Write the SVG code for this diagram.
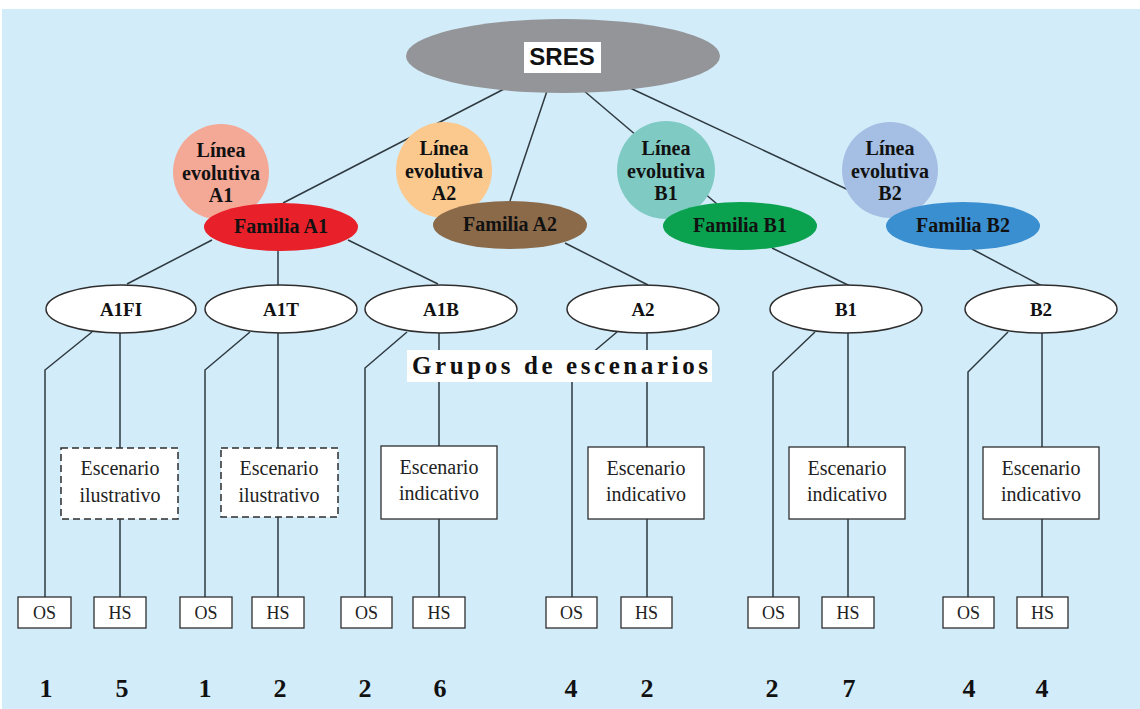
<svg xmlns="http://www.w3.org/2000/svg" width="1140" height="709" viewBox="0 0 1140 709">
<style>
.ln{stroke:#2e3a40;stroke-width:1.5;fill:none}
.grp{fill:#fff;stroke:#2e2e2e;stroke-width:1.5}
.box{fill:#fff;stroke:#2e2e2e;stroke-width:1.3}
.dash{fill:#fff;stroke:#2e2e2e;stroke-width:1.5;stroke-dasharray:7,4}
.tb{font-family:"Liberation Serif","Times New Roman",serif;font-weight:bold;fill:#111;text-anchor:middle}
.tr{font-family:"Liberation Serif","Times New Roman",serif;fill:#222;text-anchor:middle}
.lin{font-size:20px}
.fam{font-size:20px}
.gl{font-size:19px}
.esc{font-size:20px}
.os{font-size:18px}
.num{font-size:26px}
.grupos{font-family:"Liberation Serif","Times New Roman",serif;font-weight:bold;fill:#111;font-size:25px;text-anchor:start}
</style>
<rect x="0" y="0" width="1140" height="709" fill="#ffffff"/>
<rect x="2" y="9" width="1138" height="700" fill="#d3ecf9"/>

<g id="connectors">
<path class="ln" d="M506,88 L283,203"/>
<path class="ln" d="M548,88 L510,201"/>
<path class="ln" d="M583,90 L717,204"/>
<path class="ln" d="M630,88 L870,200"/>
<path class="ln" d="M212,240 L127,284"/>
<path class="ln" d="M278,250 V286"/>
<path class="ln" d="M348,240 L438,284"/>
<path class="ln" d="M565,243 L648,285"/>
<path class="ln" d="M772,248 L850,286"/>
<path class="ln" d="M972,249 L1042,286"/>
<path class="ln" d="M92,332 L45,370 V597"/>
<path class="ln" d="M120,333 V448 M120,519 V597"/>
<path class="ln" d="M250,332 L205,370 V597"/>
<path class="ln" d="M278,333 V448 M278,517 V597"/>
<path class="ln" d="M407,332 L365,368 V597"/>
<path class="ln" d="M439,333 V446 M439,519 V597"/>
<path class="ln" d="M617,332 L572,370 V597"/>
<path class="ln" d="M647,333 V447 M647,519 V597"/>
<path class="ln" d="M815,332 L773,372 V597"/>
<path class="ln" d="M848,333 V447 M848,519 V597"/>
<path class="ln" d="M1008,332 L968,372 V597"/>
<path class="ln" d="M1042,333 V447 M1042,519 V597"/>
</g>

<g id="sres">
<ellipse cx="563" cy="56" rx="157" ry="37" fill="#939598"/>
<rect x="524" y="42" width="77" height="31" fill="#fff"/>
<text x="562" y="65" font-family="Liberation Sans, Arial, sans-serif" font-weight="bold" font-size="24" text-anchor="middle" fill="#111">SRES</text>
</g>

<g id="linea-a1">
<circle cx="221" cy="172" r="48" fill="#f4a896"/>
<text class="tb lin" x="221" y="157">Línea</text>
<text class="tb lin" x="221" y="180">evolutiva</text>
<text class="tb lin" x="221" y="202">A1</text>
</g>
<g id="linea-a2">
<circle cx="444" cy="170" r="48" fill="#fbc98e"/>
<text class="tb lin" x="444" y="155">Línea</text>
<text class="tb lin" x="444" y="178">evolutiva</text>
<text class="tb lin" x="444" y="200">A2</text>
</g>
<g id="linea-b1">
<circle cx="666" cy="170" r="49" fill="#7fcbc4"/>
<text class="tb lin" x="666" y="155">Línea</text>
<text class="tb lin" x="666" y="178">evolutiva</text>
<text class="tb lin" x="666" y="200">B1</text>
</g>
<g id="linea-b2">
<circle cx="890" cy="170" r="48" fill="#a4bfe3"/>
<text class="tb lin" x="890" y="155">Línea</text>
<text class="tb lin" x="890" y="178">evolutiva</text>
<text class="tb lin" x="890" y="200">B2</text>
</g>

<g id="familia-a1">
<ellipse cx="281" cy="227" rx="77" ry="24" fill="#e8202a"/>
<text class="tb fam" x="281" y="233">Familia A1</text>
</g>
<g id="familia-a2">
<ellipse cx="510" cy="225" rx="77" ry="24" fill="#8b6a4a"/>
<text class="tb fam" x="510" y="231">Familia A2</text>
</g>
<g id="familia-b1">
<ellipse cx="740" cy="226" rx="77" ry="24" fill="#0aa24f"/>
<text class="tb fam" x="740" y="232">Familia B1</text>
</g>
<g id="familia-b2">
<ellipse cx="963" cy="226" rx="77" ry="24" fill="#3a8fd0"/>
<text class="tb fam" x="963" y="232">Familia B2</text>
</g>

<g id="g-a1fi"><ellipse class="grp" cx="121" cy="309" rx="75" ry="24"/><text class="tb gl" x="121" y="316">A1FI</text></g>
<g id="g-a1t"><ellipse class="grp" cx="281" cy="309" rx="76" ry="24"/><text class="tb gl" x="281" y="316">A1T</text></g>
<g id="g-a1b"><ellipse class="grp" cx="441" cy="309" rx="76" ry="24"/><text class="tb gl" x="441" y="316">A1B</text></g>
<g id="g-a2"><ellipse class="grp" cx="643" cy="309" rx="76" ry="24"/><text class="tb gl" x="643" y="316">A2</text></g>
<g id="g-b1"><ellipse class="grp" cx="846" cy="309" rx="76" ry="24"/><text class="tb gl" x="846" y="316">B1</text></g>
<g id="g-b2"><ellipse class="grp" cx="1041" cy="309" rx="76" ry="24"/><text class="tb gl" x="1041" y="316">B2</text></g>

<g id="grupos-label">
<rect x="407" y="350" width="305" height="32" fill="#fff"/>
<text class="grupos" x="412" y="374" textLength="296" lengthAdjust="spacing">Grupos de escenarios</text>
</g>

<g id="esc-a1fi"><rect class="dash" x="61" y="448" width="117" height="71"/><text class="tr esc" x="120" y="475">Escenario</text><text class="tr esc" x="120" y="502">ilustrativo</text></g>
<g id="esc-a1t"><rect class="dash" x="221" y="448" width="117" height="69"/><text class="tr esc" x="279" y="475">Escenario</text><text class="tr esc" x="279" y="502">ilustrativo</text></g>
<g id="esc-a1b"><rect class="box" x="381" y="446" width="116" height="73"/><text class="tr esc" x="439" y="474">Escenario</text><text class="tr esc" x="439" y="500">indicativo</text></g>
<g id="esc-a2"><rect class="box" x="588" y="447" width="116" height="72"/><text class="tr esc" x="646" y="475">Escenario</text><text class="tr esc" x="646" y="501">indicativo</text></g>
<g id="esc-b1"><rect class="box" x="789" y="447" width="116" height="72"/><text class="tr esc" x="847" y="475">Escenario</text><text class="tr esc" x="847" y="501">indicativo</text></g>
<g id="esc-b2"><rect class="box" x="983" y="447" width="116" height="72"/><text class="tr esc" x="1041" y="475">Escenario</text><text class="tr esc" x="1041" y="501">indicativo</text></g>

<g id="os-a1fi"><rect class="box" x="18" y="597" width="53" height="31"/><text class="tr os" x="44.5" y="619">OS</text></g>
<g id="hs-a1fi"><rect class="box" x="94" y="597" width="52" height="31"/><text class="tr os" x="120" y="619">HS</text></g>
<g id="os-a1t"><rect class="box" x="180" y="597" width="52" height="31"/><text class="tr os" x="206" y="619">OS</text></g>
<g id="hs-a1t"><rect class="box" x="252" y="597" width="52" height="31"/><text class="tr os" x="278" y="619">HS</text></g>
<g id="os-a1b"><rect class="box" x="341" y="597" width="51" height="31"/><text class="tr os" x="366.5" y="619">OS</text></g>
<g id="hs-a1b"><rect class="box" x="413" y="597" width="52" height="31"/><text class="tr os" x="439" y="619">HS</text></g>
<g id="os-a2"><rect class="box" x="546" y="597" width="51" height="31"/><text class="tr os" x="571.5" y="619">OS</text></g>
<g id="hs-a2"><rect class="box" x="621" y="597" width="51" height="31"/><text class="tr os" x="646.5" y="619">HS</text></g>
<g id="os-b1"><rect class="box" x="748" y="597" width="51" height="31"/><text class="tr os" x="773.5" y="619">OS</text></g>
<g id="hs-b1"><rect class="box" x="822" y="597" width="52" height="31"/><text class="tr os" x="848" y="619">HS</text></g>
<g id="os-b2"><rect class="box" x="943" y="597" width="51" height="31"/><text class="tr os" x="968.5" y="619">OS</text></g>
<g id="hs-b2"><rect class="box" x="1017" y="597" width="51" height="31"/><text class="tr os" x="1042.5" y="619">HS</text></g>

<g id="numbers">
<text class="tb num" x="46" y="697">1</text>
<text class="tb num" x="122" y="697">5</text>
<text class="tb num" x="205" y="697">1</text>
<text class="tb num" x="280" y="697">2</text>
<text class="tb num" x="365" y="697">2</text>
<text class="tb num" x="440" y="697">6</text>
<text class="tb num" x="571" y="697">4</text>
<text class="tb num" x="647" y="697">2</text>
<text class="tb num" x="772" y="697">2</text>
<text class="tb num" x="849" y="697">7</text>
<text class="tb num" x="969" y="697">4</text>
<text class="tb num" x="1042" y="697">4</text>
</g>
</svg>
